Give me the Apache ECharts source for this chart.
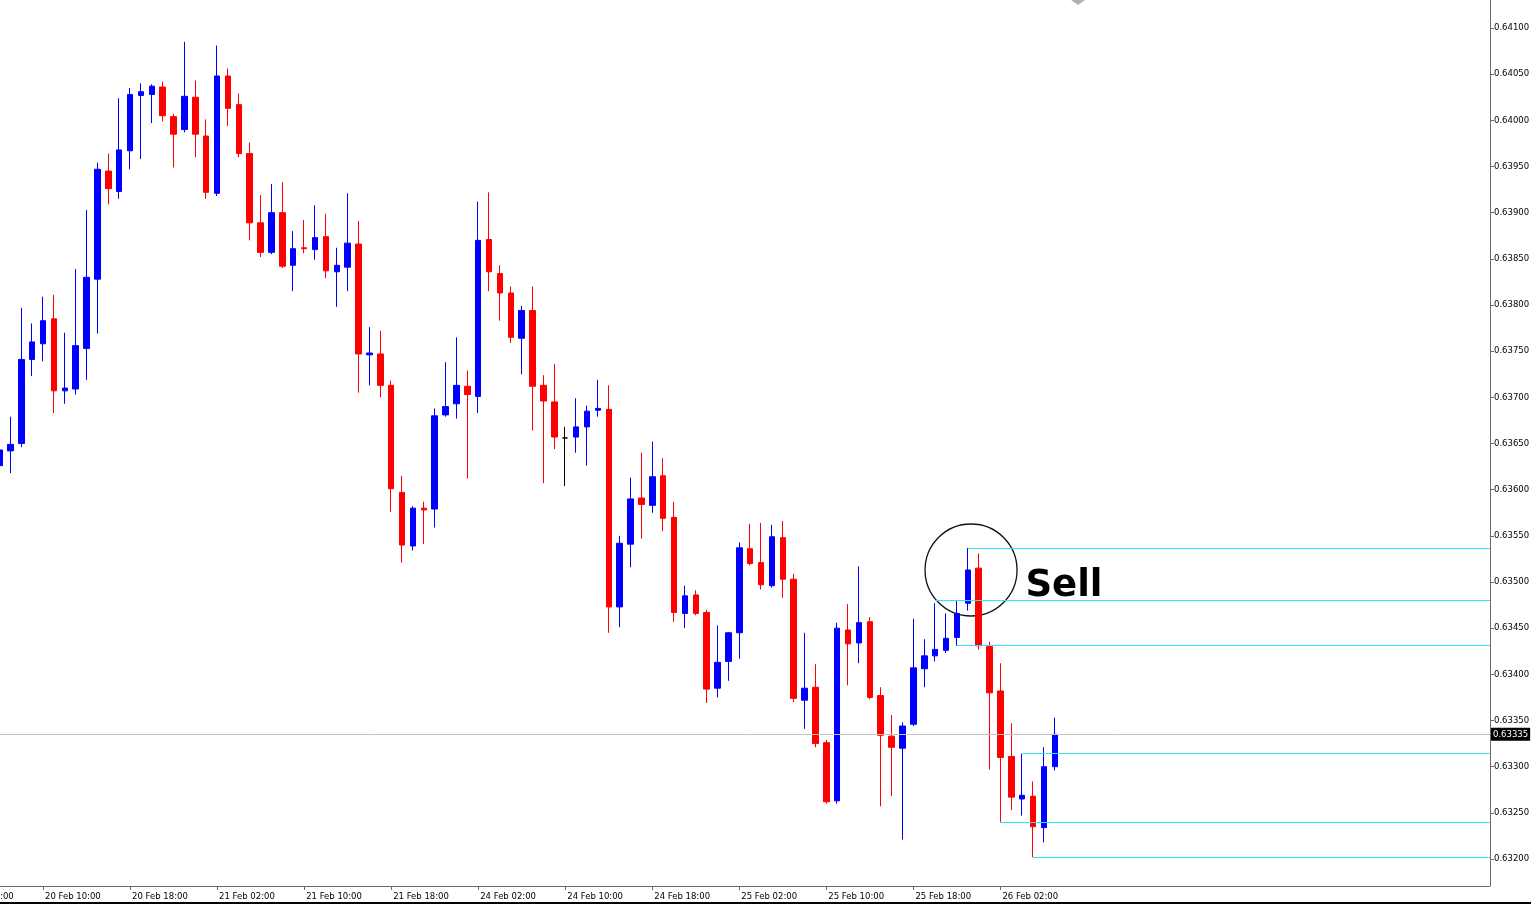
<!DOCTYPE html>
<html><head><meta charset="utf-8">
<script src="https://cdn.jsdelivr.net/npm/echarts@6/dist/echarts.min.js"></script>
<style>html,body{margin:0;padding:0;background:#fff;}#c{width:1531px;height:904px;}</style>
</head><body><div id="c"></div>
<script>
// hourly sessions: [day, first hour, last hour]
const sessions = [['20 Feb', 6, 23], ['21 Feb', 0, 23], ['24 Feb', 0, 23], ['25 Feb', 0, 23], ['26 Feb', 0, 7]];
const emptySlots = 40;

const open = [0.63626,0.63642,0.63650,0.63741,0.63758,0.63785,0.63707,0.63709,0.63753,0.63828,
0.63945,0.63923,0.63967,0.64027,0.64028,0.64036,0.64004,0.63990,0.64025,0.63983,
0.63921,0.64048,0.64017,0.63964,0.63889,0.63857,0.63900,0.63843,0.63862,0.63860,
0.63874,0.63836,0.63841,0.63866,0.63746,0.63747,0.63713,0.63597,0.63539,0.63580,
0.63579,0.63681,0.63693,0.63712,0.63701,0.63871,0.63834,0.63813,0.63764,0.63794,
0.63713,0.63695,0.63656,0.63657,0.63668,0.63686,0.63687,0.63473,0.63541,0.63591,
0.63583,0.63615,0.63570,0.63466,0.63486,0.63467,0.63385,0.63414,0.63445,0.63536,
0.63521,0.63496,0.63548,0.63503,0.63372,0.63386,0.63326,0.63263,0.63448,0.63434,
0.63457,0.63377,0.63333,0.63320,0.63346,0.63406,0.63420,0.63426,0.63440,0.63477,
0.63515,0.63430,0.63382,0.63311,0.63265,0.63268,0.63234,0.63300];
const high = [0.63710,0.63679,0.63797,0.63780,0.63809,0.63811,0.63770,0.63839,0.63903,0.63954,
0.63964,0.64024,0.64035,0.64040,0.64039,0.64042,0.64007,0.64085,0.64043,0.64001,
0.64081,0.64056,0.64029,0.63976,0.63919,0.63931,0.63933,0.63880,0.63892,0.63908,
0.63899,0.63862,0.63921,0.63891,0.63776,0.63772,0.63718,0.63615,0.63582,0.63587,
0.63688,0.63738,0.63765,0.63729,0.63912,0.63922,0.63843,0.63820,0.63799,0.63820,
0.63724,0.63736,0.63668,0.63699,0.63691,0.63719,0.63713,0.63550,0.63613,0.63640,
0.63652,0.63634,0.63587,0.63496,0.63491,0.63470,0.63453,0.63446,0.63543,0.63563,
0.63564,0.63562,0.63566,0.63509,0.63445,0.63411,0.63329,0.63456,0.63476,0.63517,
0.63462,0.63386,0.63356,0.63348,0.63460,0.63438,0.63477,0.63466,0.63480,0.63537,
0.63531,0.63435,0.63412,0.63347,0.63314,0.63284,0.63321,0.63353];
const low = [0.63614,0.63618,0.63646,0.63723,0.63739,0.63683,0.63693,0.63703,0.63719,0.63769,
0.63909,0.63915,0.63947,0.63958,0.63997,0.63999,0.63949,0.63987,0.63960,0.63915,
0.63918,0.63994,0.63960,0.63870,0.63852,0.63855,0.63840,0.63815,0.63856,0.63849,
0.63829,0.63798,0.63815,0.63705,0.63713,0.63700,0.63576,0.63521,0.63534,0.63541,
0.63559,0.63679,0.63677,0.63612,0.63683,0.63815,0.63783,0.63759,0.63725,0.63664,
0.63607,0.63644,0.63604,0.63640,0.63626,0.63679,0.63445,0.63451,0.63516,0.63547,
0.63575,0.63555,0.63457,0.63450,0.63464,0.63369,0.63375,0.63393,0.63417,0.63518,
0.63492,0.63494,0.63483,0.63370,0.63341,0.63321,0.63260,0.63260,0.63388,0.63412,
0.63373,0.63257,0.63268,0.63221,0.63344,0.63386,0.63414,0.63423,0.63431,0.63469,
0.63427,0.63297,0.63240,0.63253,0.63247,0.63202,0.63218,0.63296];
const close = [0.63643,0.63649,0.63741,0.63760,0.63783,0.63707,0.63710,0.63756,0.63830,0.63947,
0.63926,0.63968,0.64028,0.64031,0.64037,0.64005,0.63985,0.64026,0.63985,0.63922,
0.64048,0.64013,0.63964,0.63889,0.63857,0.63900,0.63842,0.63861,0.63861,0.63873,
0.63837,0.63843,0.63867,0.63747,0.63748,0.63713,0.63601,0.63540,0.63580,0.63578,
0.63680,0.63690,0.63713,0.63703,0.63870,0.63836,0.63813,0.63765,0.63794,0.63712,
0.63696,0.63657,0.63656,0.63668,0.63685,0.63688,0.63473,0.63542,0.63590,0.63584,
0.63614,0.63569,0.63467,0.63485,0.63466,0.63384,0.63413,0.63445,0.63537,0.63520,
0.63497,0.63549,0.63503,0.63374,0.63385,0.63325,0.63262,0.63450,0.63433,0.63456,
0.63375,0.63334,0.63321,0.63344,0.63407,0.63420,0.63427,0.63439,0.63466,0.63513,
0.63431,0.63380,0.63310,0.63267,0.63269,0.63235,0.63300,0.63335];

const bidPrice = 0.63335;
const levelPrices = [0.63537, 0.63480, 0.63431, 0.63314, 0.63240, 0.63202];
const levelStartIdx = [89, 86, 88, 94, 92, 95];
const yTickMin = 0.6315, yTickMax = 0.6415, yTickStep = 0.0005;
const signalText = 'Sell';

// build categories
const categories = [];
sessions.forEach(([d, a, b]) => { for (let h = a; h <= b; h++) categories.push(d + ' ' + String(h).padStart(2, '0') + ':00'); });
for (let i = 0; i < emptySlots; i++) categories.push('+' + i);
const lastIdx = categories.length - 1;

const candles = open.map((o, i) => [o, close[i], low[i], high[i]]);

const FONT = 'DejaVu Sans';
const showTick = (idx, val) => /(02|10|18):00$/.test(val);

const chart = echarts.init(document.getElementById('c'), null, {renderer: 'canvas'});
chart.setOption({
  animation: false,
  backgroundColor: '#ffffff',
  grid: {left: -0.5, right: 41, top: -18.17, bottom: -1.17, containLabel: false, outerBoundsMode: 'none'},
  xAxis: {
    type: 'category', data: categories, boundaryGap: false, offset: -19.17,
    axisLine: {show: true, lineStyle: {color: '#6b6b6b', width: 1}},
    axisTick: {show: true, interval: showTick, length: 4, lineStyle: {color: '#6b6b6b'}},
    axisLabel: {interval: showTick, align: 'left', margin: 6, padding: [0, 0, 0, 2], color: '#000', fontFamily: FONT, fontSize: 8.5},
    splitLine: {show: false}
  },
  yAxis: {
    type: 'value', position: 'right', min: yTickMin, max: yTickMax, interval: yTickStep, scale: true,
    axisLine: {show: false},
    axisTick: {show: true, length: 4, lineStyle: {color: '#6b6b6b'}},
    axisLabel: {margin: 4, color: '#000', fontFamily: FONT, fontSize: 8.5, showMinLabel: false, showMaxLabel: false,
      formatter: v => v.toFixed(5)},
    splitLine: {show: false}
  },
  series: [{
    type: 'candlestick', data: candles, barWidth: 6,
    itemStyle: {color: '#0000ff', color0: '#ff0000', borderColor: '#0000ff', borderColor0: '#ff0000', borderColorDoji: '#000000', borderWidth: 1},
    emphasis: {disabled: true},
    markLine: {
      silent: true, symbol: ['none', 'none'], animation: false,
      label: {show: false},
      lineStyle: {color: '#2fe6f2', type: 'solid', width: 1},
      data: [
        [{coord: [0, bidPrice], lineStyle: {color: '#c4c4c4', type: 'solid', width: 1},
          label: {show: true, position: 'end', distance: 1, formatter: bidPrice.toFixed(5), color: '#fff', backgroundColor: '#000',
            padding: [2, 2, 2, 2], fontFamily: FONT, fontSize: 8.5, lineHeight: 9}},
         {coord: [lastIdx, bidPrice]}],
        ...levelPrices.map((p, i) => [{coord: [levelStartIdx[i], p]}, {coord: [lastIdx, p]}])
      ]
    }
  }],
  graphic: [
    {type: 'line', id: 'rborder', shape: {x1: 1490.5, y1: 0, x2: 1490.5, y2: 886}, style: {stroke: '#6b6b6b', lineWidth: 1}, silent: true},
    {type: 'rect', id: 'bottombar', shape: {x: 0, y: 902, width: 1531, height: 2}, style: {fill: '#000'}, silent: true},
    {type: 'polygon', id: 'shift', shape: {points: [[1071, 0], [1085, 0], [1078, 5]]}, style: {fill: '#b0b0b0'}, silent: true},
    {type: 'text', id: 'partial', x: -42, y: 892, style: {text: '20 Feb 02:00', fill: '#000', font: '8.5px "DejaVu Sans"'}, silent: true}
  ]
});

function pix(idx, v) {
  const i0 = Math.floor(idx), f = idx - i0;
  const a = chart.convertToPixel({xAxisIndex: 0, yAxisIndex: 0}, [i0, v]);
  const b = chart.convertToPixel({xAxisIndex: 0, yAxisIndex: 0}, [i0 + 1, v]);
  return [a[0] + (b[0] - a[0]) * f, a[1]];
}
const cpt = pix(89.3, 0.63513);
const spt = pix(94.3, 0.63495);
chart.setOption({graphic: [
  {type: 'circle', id: 'ring', shape: {cx: cpt[0], cy: cpt[1], r: 46}, style: {fill: 'none', stroke: '#111', lineWidth: 1.3}, silent: true},
  {type: 'text', id: 'sell', x: spt[0], y: spt[1], style: {text: signalText, fill: '#000', font: 'bold 37px "DejaVu Sans"', verticalAlign: 'middle', align: 'left'}, silent: true}
]});
</script>
</body></html>
